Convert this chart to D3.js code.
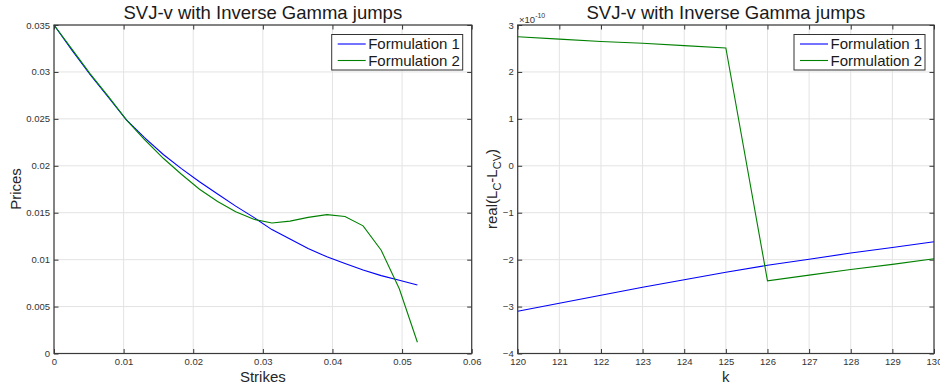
<!DOCTYPE html>
<html>
<head>
<meta charset="utf-8">
<script src="https://cdn.jsdelivr.net/npm/d3@7"></script>
<style>
  body { margin: 0; background: #fff; }
  svg { display: block; font-family: "Liberation Sans", Arial, sans-serif; }
  .grid line { stroke: #e3e3e3; stroke-width: 1; }
  .axis path { display: none; }
  .axis line { stroke: #333; }
  .axis text { fill: #333; font-size: 9.5px; }
</style>
</head>
<body>
<svg id="chart" width="940" height="387"></svg>
<script>
var TITLE = "SVJ-v with Inverse Gamma jumps";
var SERIES_NAMES = ["Formulation 1", "Formulation 2"];
var SERIES_COLORS = ["#0000ff", "#008000"];

// left panel: prices vs strikes
var strikes = [0, 0.0026, 0.0052, 0.0078, 0.0104, 0.0130, 0.0157, 0.0183, 0.0209, 0.0235, 0.0261,
    0.0287, 0.0313, 0.0339, 0.0365, 0.0392, 0.0418, 0.0444, 0.0470, 0.0496, 0.0522];
var pricesF1 = [0.0350, 0.0323, 0.0297, 0.0273, 0.0249, 0.0230, 0.0212, 0.0197, 0.0183, 0.0170, 0.0157,
    0.0145, 0.0132, 0.0122, 0.0112, 0.0103, 0.0096, 0.0089, 0.0083, 0.0078, 0.0073];
var pricesF2 = [0.0350, 0.0324, 0.0298, 0.0274, 0.0249, 0.0228, 0.0208, 0.0191, 0.0175, 0.0162, 0.0151,
    0.0143, 0.0139, 0.0141, 0.0145, 0.0148, 0.0146, 0.0136, 0.0110, 0.0069, 0.0012];
var strikeTicks = [0, 0.01, 0.02, 0.03, 0.04, 0.05, 0.06];
var priceTicks = [0, 0.005, 0.01, 0.015, 0.02, 0.025, 0.03, 0.035];

// right panel: real(L_C - L_CV) vs k, in units of 1e-10
var kValues = [120, 121, 122, 123, 124, 125, 126, 127, 128, 129, 130];
var diffF1 = [-3.10, -2.93, -2.76, -2.59, -2.43, -2.27, -2.12, -1.99, -1.86, -1.74, -1.62];
var diffF2 = [2.75, 2.70, 2.65, 2.61, 2.56, 2.51, -2.45, -2.33, -2.21, -2.10, -1.98];
var kTicks = [120, 121, 122, 123, 124, 125, 126, 127, 128, 129, 130];
var diffTicks = [-4, -3, -2, -1, 0, 1, 2, 3];

var svg = d3.select("#chart");
var TOP = 25, BOTTOM = 353.5;

function drawPanel(opts) {
    var g = svg.append("g");
    var x = d3.scaleLinear().domain(opts.xDomain).range([opts.left, opts.right]);
    var y = d3.scaleLinear().domain(opts.yDomain).range([BOTTOM, TOP]);
    var w = opts.right - opts.left, h = BOTTOM - TOP;

    // grid
    g.append("g").attr("class", "grid")
        .selectAll("line.v").data(opts.xTicks).enter().append("line")
        .attr("x1", d => x(d)).attr("x2", d => x(d)).attr("y1", TOP).attr("y2", BOTTOM);
    g.append("g").attr("class", "grid")
        .selectAll("line.h").data(opts.yTicks).enter().append("line")
        .attr("y1", d => y(d)).attr("y2", d => y(d)).attr("x1", opts.left).attr("x2", opts.right);

    // axes, ticks pointing inwards on all four sides
    g.append("g").attr("class", "axis").attr("transform", "translate(0," + BOTTOM + ")")
        .call(d3.axisBottom(x).tickValues(opts.xTicks).tickSizeInner(-4.5).tickSizeOuter(0)
            .tickPadding(5).tickFormat(opts.xFormat));
    g.append("g").attr("class", "axis").attr("transform", "translate(0," + TOP + ")")
        .call(d3.axisTop(x).tickValues(opts.xTicks).tickSizeInner(-4.5).tickSizeOuter(0).tickFormat(""));
    g.append("g").attr("class", "axis").attr("transform", "translate(" + opts.left + ",0)")
        .call(d3.axisLeft(y).tickValues(opts.yTicks).tickSizeInner(-4.5).tickSizeOuter(0)
            .tickPadding(4).tickFormat(opts.yFormat));
    g.append("g").attr("class", "axis").attr("transform", "translate(" + opts.right + ",0)")
        .call(d3.axisRight(y).tickValues(opts.yTicks).tickSizeInner(-4.5).tickSizeOuter(0).tickFormat(""));

    // lines
    var line = d3.line().x(d => x(d[0])).y(d => y(d[1]));
    opts.series.forEach(function (s, i) {
        g.append("path")
            .datum(opts.xs.map((v, j) => [v, s[j]]))
            .attr("fill", "none")
            .attr("stroke", SERIES_COLORS[i])
            .attr("stroke-width", 1.1)
            .attr("d", line);
    });

    // frame
    g.append("rect").attr("x", opts.left).attr("y", TOP).attr("width", w).attr("height", h)
        .attr("fill", "none").attr("stroke", "#3a3a3a").attr("stroke-width", 1.2);

    // title and labels
    var cx = (opts.left + opts.right) / 2;
    g.append("text").attr("x", cx).attr("y", 18.5).attr("text-anchor", "middle")
        .attr("font-size", "18.5px").attr("fill", "#1a1a1a").text(TITLE);
    g.append("text").attr("x", cx).attr("y", 381.5).attr("text-anchor", "middle")
        .attr("font-size", "15px").attr("fill", "#262626").text(opts.xLabel);

    // legend
    var lx = opts.right - 140, ly = 34.5;
    var lg = g.append("g");
    lg.append("rect").attr("x", lx).attr("y", ly).attr("width", 131).attr("height", 35.5)
        .attr("fill", "#fff").attr("stroke", "#333").attr("stroke-width", 1);
    SERIES_NAMES.forEach(function (name, i) {
        var yy = ly + 9.5 + i * 16.5;
        lg.append("line").attr("x1", lx + 6).attr("x2", lx + 34).attr("y1", yy).attr("y2", yy)
            .attr("stroke", SERIES_COLORS[i]).attr("stroke-width", 1.1);
        lg.append("text").attr("x", lx + 36.5).attr("y", yy + 5.2).attr("font-size", "15px")
            .attr("fill", "#1a1a1a").text(name);
    });
    return g;
}

drawPanel({
    left: 54, right: 471.7,
    xDomain: [0, 0.06], yDomain: [0, 0.035],
    xTicks: strikeTicks, yTicks: priceTicks,
    xFormat: d3.format("~g"), yFormat: d3.format("~g"),
    xs: strikes, series: [pricesF1, pricesF2],
    xLabel: "Strikes"
});

svg.append("text").attr("transform", "translate(21,189) rotate(-90)")
    .attr("text-anchor", "middle").attr("font-size", "15px").attr("fill", "#262626").text("Prices");

drawPanel({
    left: 517.7, right: 934,
    xDomain: [120, 130], yDomain: [-4, 3],
    xTicks: kTicks, yTicks: diffTicks,
    xFormat: d3.format("d"), yFormat: d3.format("d"),
    xs: kValues, series: [diffF1, diffF2],
    xLabel: "k"
});

// exponent label
var expo = svg.append("text").attr("x", 519).attr("y", 22.5).attr("font-size", "9.5px").attr("fill", "#333");
expo.append("tspan").text("\u00d710");
expo.append("tspan").attr("dy", -4.5).attr("font-size", "7px").text("-10");

// y label of right panel with subscripts
var yl = svg.append("text").attr("transform", "translate(497,189) rotate(-90)")
    .attr("text-anchor", "middle").attr("font-size", "15px").attr("fill", "#262626");
yl.append("tspan").text("real(L");
yl.append("tspan").attr("dy", 3.5).attr("font-size", "11px").text("C");
yl.append("tspan").attr("dy", -3.5).text("-L");
yl.append("tspan").attr("dy", 3.5).attr("font-size", "11px").text("CV");
yl.append("tspan").attr("dy", -3.5).text(")");
</script>
</body>
</html>
